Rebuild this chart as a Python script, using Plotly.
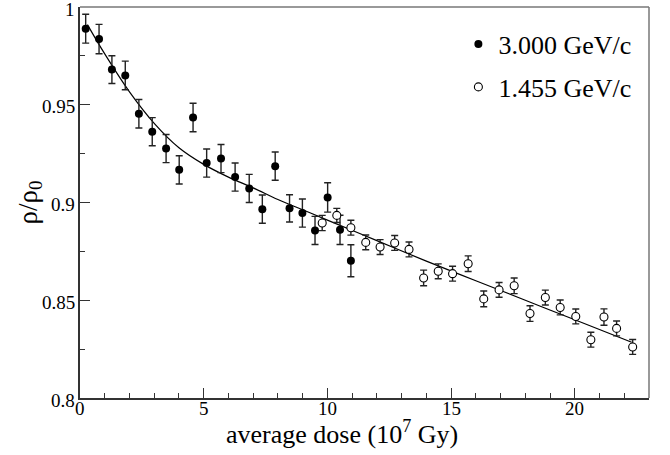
import plotly.graph_objects as go

# 3.000 GeV/c (filled)
fill_x = [0.23, 0.77, 1.29, 1.83, 2.38, 2.92, 3.48, 4.01, 4.57, 5.12, 5.70,
          6.27, 6.84, 7.37, 7.89, 8.47, 8.99, 9.50, 10.01, 10.51, 10.95]
fill_y = [0.9889, 0.9836, 0.9680, 0.9650, 0.9454, 0.9362, 0.9276, 0.9167, 0.9435,
          0.9202, 0.9225, 0.9130, 0.9072, 0.8966, 0.9186, 0.8970, 0.8946, 0.8857,
          0.9026, 0.8860, 0.8702]
fill_err = [0.0074, 0.0075, 0.0071, 0.0073, 0.0073, 0.0072, 0.0072, 0.0072, 0.0073,
            0.0072, 0.0072, 0.0072, 0.0072, 0.0072, 0.0072, 0.0070, 0.0072, 0.0072,
            0.0075, 0.0075, 0.0082]

# 1.455 GeV/c (open)
open_x = [9.79, 10.38, 10.95, 11.55, 12.13, 12.72, 13.30, 13.89, 14.48, 15.06, 15.69,
          16.32, 16.94, 17.55, 18.19, 18.81, 19.41, 20.04, 20.65, 21.18, 21.69, 22.34]
open_y = [0.8895, 0.8934, 0.8871, 0.8796, 0.8772, 0.8793, 0.8760, 0.8614, 0.8648,
          0.8636, 0.8687, 0.8507, 0.8553, 0.8574, 0.8432, 0.8514, 0.8463, 0.8417,
          0.8298, 0.8414, 0.8356, 0.8261]
open_err = [0.0039, 0.0036, 0.0038, 0.0038, 0.0038, 0.0038, 0.0038, 0.0040, 0.0038,
            0.0038, 0.0040, 0.0040, 0.0038, 0.0040, 0.0040, 0.0038, 0.0038, 0.0038,
            0.0038, 0.0042, 0.0038, 0.0038]

# fit curve
fit_x = [0.3, 1, 2, 3, 4, 5, 6, 7, 8, 9, 10, 12, 14, 16, 18, 20, 22.3]
fit_y = [0.991, 0.976, 0.9566, 0.9405, 0.928, 0.9195, 0.913, 0.9075, 0.9015,
         0.8963, 0.891, 0.8805, 0.870, 0.860, 0.850, 0.840, 0.8285]

x_range = [0, 23]
y_range = [0.8, 1.0]
x_ticks = [0, 5, 10, 15, 20]
x_ticktext = ["0", "5", "10", "15", "20"]
y_ticks = [0.8, 0.85, 0.9, 0.95, 1.0]
y_ticktext = ["0.8", "0.85", "0.9", "0.95", "1"]
legend_names = ["3.000 GeV/c", "1.455 GeV/c"]

FONT = "Liberation Serif, Times New Roman, serif"

fig = go.Figure()
fig.add_trace(go.Scatter(x=fit_x, y=fit_y, mode="lines", line=dict(color="black", width=1.2, shape="spline"),
                         showlegend=False, hoverinfo="skip"))
fig.add_trace(go.Scatter(
    x=fill_x, y=fill_y, mode="markers", name=legend_names[0], legendgroup="a",
    marker=dict(symbol="circle", size=8, color="black", line=dict(color="black", width=0)),
    error_y=dict(type="data", array=fill_err, visible=True, color="#222", thickness=1.4, width=3.5),
))
fig.add_trace(go.Scatter(
    x=open_x, y=open_y, mode="markers", name=legend_names[1], legendgroup="b",
    marker=dict(symbol="circle", size=8, color="white", line=dict(color="black", width=1.1)),
    error_y=dict(type="data", array=open_err, visible=True, color="#222", thickness=1.4, width=3.5),
))

axis_common = dict(
    showgrid=False, zeroline=False, showline=True, linecolor="#333", linewidth=2,
    ticks="inside", ticklen=10, tickwidth=1, tickcolor="#333", automargin=False,
    showticklabels=False,
)
fig.update_xaxes(range=x_range, tickvals=x_ticks,
                 minor=dict(ticks="inside", ticklen=5, dtick=1, tick0=0, tickcolor="#333", tickwidth=1),
                 **axis_common)
fig.update_yaxes(range=y_range, tickvals=y_ticks,
                 minor=dict(ticks="inside", ticklen=5, dtick=0.025, tick0=0.8, tickcolor="#333", tickwidth=1),
                 **axis_common)

# tick labels
for xv, xt in zip(x_ticks, x_ticktext):
    fig.add_annotation(text=xt, x=xv, xref="x", y=0, yref="paper", xanchor="center", yanchor="top",
                       showarrow=False, yshift=2, font=dict(family=FONT, size=19, color="black"))
for yv, yt in zip(y_ticks, y_ticktext):
    fig.add_annotation(text=yt, x=0, xref="paper", y=yv, yref="y", xanchor="right", yanchor="middle",
                       showarrow=False, xshift=-3, yshift=-2, font=dict(family=FONT, size=19, color="black"))

# top and right frame
fig.add_shape(type="line", xref="paper", yref="paper", x0=0, x1=1, y0=1, y1=1,
              line=dict(color="#777", width=1.5))
fig.add_shape(type="line", xref="paper", yref="paper", x0=1, x1=1, y0=0, y1=1,
              line=dict(color="#777", width=1.5))

fig.add_annotation(text="average dose (10<sup>7</sup> Gy)", xref="paper", yref="paper",
                   x=0.4596, y=-0.087, xanchor="center", yanchor="middle", showarrow=False,
                   font=dict(family=FONT, size=26, color="black"))
fig.add_annotation(text="ρ/ρ<sub>0</sub>", xref="paper", yref="paper",
                   x=-0.0896, y=0.5, xanchor="center", yanchor="middle", showarrow=False,
                   textangle=-90, font=dict(family=FONT, size=27, color="black"))

fig.update_layout(
    width=670, height=455,
    margin=dict(l=80, r=21, t=7, b=57, autoexpand=False),
    paper_bgcolor="white", plot_bgcolor="white",
    font=dict(family=FONT, color="black"),
    legend=dict(x=0.665, y=0.965, xanchor="left", yanchor="top", bgcolor="rgba(0,0,0,0)",
                font=dict(family=FONT, size=26, color="black"), tracegroupgap=6,
                traceorder="grouped", itemwidth=30),
)

fig.write_html("out.html")
